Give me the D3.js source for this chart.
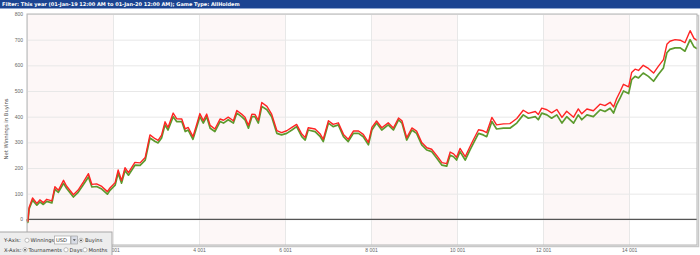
<!DOCTYPE html>
<html>
<head>
<meta charset="utf-8">
<script src="https://cdn.jsdelivr.net/npm/d3@7"></script>
<style>
  body { margin: 0; background: #fff; }
  svg { display: block; font-family: "DejaVu Sans", Verdana, sans-serif; }
</style>
</head>
<body>
<div id="chart"></div>
<script>
const filterText = "Filter: This year (01-Jan-19 12:00 AM to 01-Jan-20 12:00 AM); Game Type: AllHoldem";
const yTicks = [0, 100, 200, 300, 400, 500, 600, 700, 800];
const xTicks = [1, 2001, 4001, 6001, 8001, 10001, 12001, 14001];

// tournament number of each sampled point
const tournaments = [1, 20, 50, 130, 230, 300, 380, 460, 580, 650, 730, 850, 920, 1080, 1190, 1310, 1430, 1510, 1620, 1740,
  1870, 1930, 2050, 2120, 2200, 2280, 2360, 2510, 2630, 2750, 2860, 2980, 3050, 3130, 3210, 3280, 3400, 3480, 3600, 3680,
  3750, 3860, 3950, 4020, 4100, 4180, 4260, 4370, 4490, 4570, 4680, 4800, 4880, 4990, 5070, 5150, 5230, 5300, 5380, 5460,
  5580, 5690, 5810, 5920, 6040, 6160, 6270, 6390, 6470, 6540, 6700, 6820, 6890, 7010, 7120, 7240, 7360, 7470, 7590, 7710,
  7820, 7940, 8020, 8130, 8250, 8400, 8520, 8640, 8720, 8830, 8950, 9060, 9180, 9300, 9410, 9530, 9650, 9760, 9840, 9920,
  9990, 10070, 10190, 10300, 10380, 10500, 10610, 10690, 10810, 10920, 11080, 11230, 11390, 11540, 11660, 11820, 11890, 11970, 12090, 12200,
  12320, 12440, 12550, 12710, 12820, 12900, 13020, 13170, 13330, 13440, 13560, 13640, 13710, 13790, 13870, 13990, 14060, 14140, 14220, 14330,
  14450, 14570, 14680, 14800, 14880, 14950, 15070, 15190, 15300, 15420, 15510, 15580];

// net winnings (green)
const netWinnings = [0, -12, 40, 75, 55, 68, 58, 70, 64, 118, 105, 140, 121, 87, 105, 135, 165, 126, 128, 118,
  98, 113, 133, 180, 141, 190, 172, 211, 210, 231, 317, 303, 298, 317, 368, 348, 400, 381, 381, 342,
  348, 312, 361, 400, 375, 400, 355, 342, 381, 375, 388, 375, 414, 400, 388, 355, 400, 400, 375, 440,
  427, 400, 335, 329, 335, 348, 361, 322, 309, 348, 342, 322, 303, 375, 361, 368, 322, 303, 335, 335,
  322, 290, 348, 375, 348, 368, 348, 388, 375, 309, 348, 335, 290, 270, 264, 238, 211, 207, 250, 244,
  231, 264, 231, 270, 296, 335, 329, 322, 381, 352, 355, 355, 375, 407, 394, 400, 388, 414, 407, 394,
  407, 375, 400, 375, 407, 388, 407, 400, 427, 420, 433, 414, 446, 472, 500, 490, 544, 557, 551, 570,
  557, 538, 564, 590, 649, 662, 668, 668, 655, 700, 672, 665];

// winnings before rake (red)
const grossWinnings = [0, -8, 46, 83, 62, 76, 65, 78, 72, 127, 113, 152, 130, 96, 114, 145, 178, 136, 138, 128,
  108, 122, 143, 192, 151, 201, 182, 222, 220, 241, 329, 314, 308, 328, 380, 358, 414, 392, 391, 352,
  358, 322, 372, 412, 385, 410, 366, 352, 391, 386, 398, 384, 424, 410, 398, 366, 410, 409, 386, 455,
  440, 410, 346, 338, 345, 358, 370, 332, 319, 357, 352, 332, 312, 384, 370, 376, 331, 312, 344, 344,
  331, 300, 358, 383, 357, 376, 356, 395, 384, 318, 356, 344, 299, 279, 273, 248, 221, 217, 262, 255,
  242, 276, 244, 283, 310, 349, 345, 338, 397, 368, 372, 373, 393, 425, 413, 420, 408, 433, 427, 415,
  428, 397, 421, 398, 430, 411, 430, 423, 449, 443, 456, 438, 470, 497, 526, 516, 572, 585, 580, 600,
  588, 570, 596, 622, 682, 694, 700, 698, 688, 735, 705, 697];

function drawChart() {
  const width = 700, height = 255;
  const margin = { top: 14, right: 3, bottom: 10, left: 27 };
  const w = width - margin.left - margin.right;
  const h = height - margin.top - margin.bottom;

  const svg = d3.select("#chart").append("svg")
    .attr("width", width)
    .attr("height", height);

  // filter bar
  svg.append("rect").attr("width", width).attr("height", 8).attr("fill", "#1b4491");
  svg.append("rect").attr("y", 8).attr("width", width).attr("height", 1).attr("fill", "#8ea6cf");
  svg.append("text")
    .attr("x", 2).attr("y", 6)
    .attr("font-size", 5).attr("font-weight", "bold")
    .attr("fill", "#fff")
    .text(filterText);

  const x = d3.scaleLinear().domain([1, 15580]).range([0, w]);
  const y = d3.scaleLinear().domain([-100, 800]).range([h, 0]);

  const g = svg.append("g").attr("transform", `translate(${margin.left},${margin.top})`);

  // frame shadow
  g.append("rect")
    .attr("x", 1.5).attr("y", 1.5).attr("width", w).attr("height", h)
    .attr("fill", "none").attr("stroke", "#c8c8c8").attr("stroke-width", 1.5);
  g.append("rect").attr("width", w).attr("height", h).attr("fill", "#fff");

  // alternating bands
  const bands = d3.range(0, xTicks.length, 2).map(i => [xTicks[i], i + 1 < xTicks.length ? xTicks[i + 1] : 15580]);
  g.selectAll(".band")
    .data(bands)
    .join("rect")
    .attr("class", "band")
    .attr("x", d => x(d[0]))
    .attr("width", d => x(d[1]) - x(d[0]))
    .attr("y", 0).attr("height", h)
    .attr("fill", "#fdf7f7");

  // grid
  g.selectAll(".hgrid")
    .data(d3.range(-100, 801, 100))
    .join("line")
    .attr("class", "hgrid")
    .attr("x1", 0).attr("x2", w)
    .attr("y1", d => y(d) + 0.5).attr("y2", d => y(d) + 0.5)
    .attr("stroke", "#e8e8e8");
  g.selectAll(".vgrid")
    .data(xTicks)
    .join("line")
    .attr("class", "vgrid")
    .attr("x1", d => Math.round(x(d)) + 0.5).attr("x2", d => Math.round(x(d)) + 0.5)
    .attr("y1", 0).attr("y2", h)
    .attr("stroke", "#e8e8e8");

  // zero line
  g.append("line")
    .attr("x1", 0).attr("x2", w)
    .attr("y1", y(0)).attr("y2", y(0))
    .attr("stroke", "#555").attr("stroke-width", 1.3);

  const pts = tournaments.map((t, i) => ({ t, net: netWinnings[i], gross: grossWinnings[i] }));

  const lineNet = d3.line().x(d => x(d.t)).y(d => y(d.net));
  const lineGross = d3.line().x(d => x(d.t)).y(d => y(d.gross));

  g.append("path").datum(pts)
    .attr("d", lineNet)
    .attr("fill", "none").attr("stroke", "#5c9a2e").attr("stroke-width", 1.7)
    .attr("stroke-linejoin", "round");
  g.append("path").datum(pts)
    .attr("d", lineGross)
    .attr("fill", "none").attr("stroke", "#ff2424").attr("stroke-width", 1.4)
    .attr("stroke-linejoin", "round");

  // frame
  g.append("rect").attr("width", w).attr("height", h)
    .attr("fill", "none").attr("stroke", "#b5b5b5");

  // axes
  const yAxis = g.append("g")
    .call(d3.axisLeft(y).tickValues(yTicks).tickSize(0).tickPadding(4));
  yAxis.select(".domain").remove();
  yAxis.selectAll("text").attr("font-size", 5).attr("fill", "#666").attr("font-family", null);

  const fmt = d => d3.format(",")(d).replace(/,/g, " ");
  const xAxis = g.append("g")
    .attr("transform", `translate(0,${h})`)
    .call(d3.axisBottom(x).tickValues(xTicks).tickFormat(fmt).tickSize(0).tickPadding(3));
  xAxis.select(".domain").remove();
  xAxis.selectAll("text").attr("font-size", 5).attr("fill", "#666").attr("font-family", null);

  g.append("text")
    .attr("transform", "rotate(-90)")
    .attr("x", -115).attr("y", -19)
    .attr("text-anchor", "middle")
    .attr("font-size", 5.3).attr("fill", "#555")
    .text("Net Winnings in Buyins");

  // axis options panel
  const panel = svg.append("g").attr("transform", "translate(0,232)");
  panel.append("rect").attr("x", -1).attr("width", 113).attr("height", 24)
    .attr("fill", "#ededed").attr("stroke", "#a8a8a8");

  const label = (px, py, txt) => panel.append("text")
    .attr("x", px).attr("y", py).attr("font-size", 5.2).attr("fill", "#333").text(txt);
  const radio = (cx, cy, on) => {
    panel.append("circle").attr("cx", cx).attr("cy", cy).attr("r", 2.1)
      .attr("fill", "#fff").attr("stroke", "#999").attr("stroke-width", 0.6);
    if (on) panel.append("circle").attr("cx", cx).attr("cy", cy).attr("r", 0.9).attr("fill", "#333");
  };

  label(4, 10, "Y-Axis:");
  radio(27, 8.3, false);
  label(30.5, 10, "Winnings");
  panel.append("rect").attr("x", 54.5).attr("y", 4).attr("width", 16).attr("height", 8)
    .attr("fill", "#fff").attr("stroke", "#999").attr("stroke-width", 0.6);
  label(56, 10, "USD");
  panel.append("rect").attr("x", 71).attr("y", 4).attr("width", 6.5).attr("height", 8)
    .attr("fill", "#d8dce6").attr("stroke", "#999").attr("stroke-width", 0.6);
  panel.append("path").attr("d", "M72.8,7.2 L75.8,7.2 L74.3,9 Z").attr("fill", "#444");
  radio(81, 8.3, true);
  label(85, 10, "Buyins");

  label(4, 19.5, "X-Axis:");
  radio(25, 17.8, true);
  label(28.5, 19.5, "Tournaments");
  radio(66, 17.8, false);
  label(69.5, 19.5, "Days");
  radio(85, 17.8, false);
  label(88.5, 19.5, "Months");
}

drawChart();
</script>
</body>
</html>
